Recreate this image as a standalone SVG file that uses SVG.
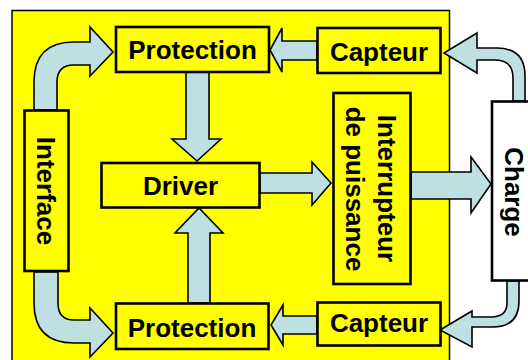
<svg xmlns="http://www.w3.org/2000/svg" width="528" height="360" viewBox="0 0 528 360">
<style>
.bg{fill:#FFFF00;stroke:#000;stroke-width:1.5}
.box{fill:#FFFF00;stroke:#000;stroke-width:2.6}
.wbox{fill:#FFFFFF;stroke:#000;stroke-width:2.6}
.arr{fill:#BEE0E3;stroke:#000;stroke-width:1.6;stroke-linejoin:miter}
text{font-family:"Liberation Sans",Arial,sans-serif;font-weight:bold;font-size:26px;fill:#000;text-anchor:middle}
</style>
<rect width="528" height="360" fill="#FFFFFF"/>
<rect class="bg" x="12" y="10.5" width="437.5" height="360"/>
<g id="connectors">
  <path class="arr" d="M34,110 L34,82 Q34,42 74,42 L90,42 L90,27 L113,52 L90,76 L90,65 L74,65 Q57,65 57,82 L57,110 Z"/>
  <path class="arr" d="M34,272 L34,303 Q34,343 74,343 L90,343 L90,357 L113,333 L90,308 L90,320 L74,320 Q58,320 58,303 L58,272 Z"/>
  <path class="arr" d="M186,72 L186,139 L172,139 L197,161 L221,139 L209,139 L209,72 Z"/>
  <path class="arr" d="M188,303 L188,233 L175,233 L199,208 L223,233 L210,233 L210,303 Z"/>
  <path class="arr" d="M317,41 L282,41 L282,28 L270,50 L282,72 L282,60 L317,60 Z"/>
  <path class="arr" d="M317,316 L283,316 L283,305 L271,325 L283,345 L283,334 L317,334 Z"/>
  <path class="arr" d="M260,173 L312,173 L312,162 L331,183 L312,205 L312,193 L260,193 Z"/>
  <path class="arr" d="M411,172 L471,172 L471,157 L491,184 L471,213 L471,199 L411,199 Z"/>
  <path class="arr" d="M513,101 L513,78 Q513,60 495,60 L477,60 L477,73 L444,53 L477,33 L477,48 L497,48 Q525,48 525,76 L525,101 Z"/>
  <path class="arr" d="M507,281 L507,303 Q507,317 491,317 L472,317 L472,311 L440,330 L472,347 L472,327 L493,327 Q519,327 519,301 L519,281 Z"/>
</g>
<g id="protection-top">
  <rect class="box" x="116" y="27" width="153" height="45"/>
  <text x="192.5" y="58.5">Protection</text>
</g>
<g id="capteur-top">
  <rect class="box" x="317.5" y="28" width="123" height="45"/>
  <text x="379" y="61">Capteur</text>
</g>
<g id="interface">
  <rect class="box" x="24.5" y="110.5" width="44" height="160.5"/>
  <text transform="translate(36.5,191) rotate(90)">Interface</text>
</g>
<g id="driver">
  <rect class="box" x="101.5" y="163" width="158" height="44.5"/>
  <text x="180.5" y="195">Driver</text>
</g>
<g id="interrupteur">
  <rect class="box" x="333.5" y="93" width="77" height="191"/>
  <text transform="translate(378,188.5) rotate(90)">Interrupteur</text>
  <text transform="translate(346,189) rotate(90)">de puissance</text>
</g>
<g id="charge">
  <rect class="wbox" x="492" y="101.5" width="50" height="179"/>
  <text transform="translate(504.5,192) rotate(90)">Charge</text>
</g>
<g id="protection-bottom">
  <rect class="box" x="116" y="303.5" width="152.5" height="45.5"/>
  <text x="192" y="336.5">Protection</text>
</g>
<g id="capteur-bottom">
  <rect class="box" x="317.5" y="302.5" width="123" height="43"/>
  <text x="379" y="331.5">Capteur</text>
</g>
</svg>
